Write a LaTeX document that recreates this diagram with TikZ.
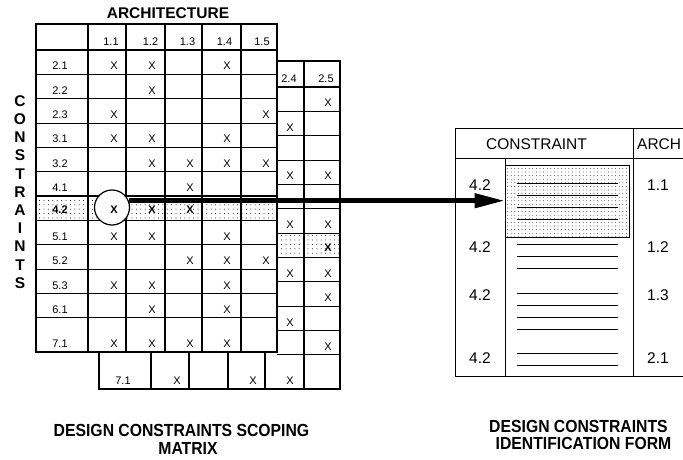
\documentclass[tikz,border=0pt]{standalone}
\usepackage{fontspec}
\setmainfont{Liberation Sans}
\newfontfamily\captionfont[FakeStretch=0.9]{Liberation Sans}
\usetikzlibrary{patterns.meta,arrows.meta}

% a row of X marks: #1 name prefix, #2 baseline, #3 x positions
\newcommand\xrow[3]{\foreach \xx in {#3}{\node[cell] (#1-\xx) at (\xx,#2) {X};}}

\tikzset{
  cell/.style={font=\fontsize{11}{13}\selectfont, anchor=base, inner sep=0pt},
  cellbold/.style={cell, font=\fontsize{11}{13}\selectfont\bfseries},
  gridline/.style={line width=1.05pt},
  frame/.style={line width=2.6pt},
  stipA/.style={pattern={Dots[distance=4.4pt,radius=0.5pt]}, pattern color=black},
  stipB/.style={pattern={Dots[distance=3.6pt,radius=0.42pt]}, pattern color=black},
  rule/.style={line width=1.0pt},
  heading/.style={font=\fontsize{15.5}{18}\selectfont\bfseries, inner sep=0pt},
  formtext/.style={font=\fontsize{15.5}{18}\selectfont, inner sep=0pt, anchor=base},
  caption/.style={font=\captionfont\fontsize{17.5}{20}\selectfont\bfseries, inner sep=0pt},
}

\begin{document}
\begin{tikzpicture}[x=1pt,y=-1pt]
\useasboundingbox (0,0) rectangle (683,460);

% ---------- second sheet of the matrix (behind) ----------
\fill[white] (99,61) rectangle (340,389);
\fill[stipA] (277,233.1) rectangle (340,257.45);
\foreach \y in {87,111.35,135.7,160.05,184.4,208.75,233.1,257.45,281.8,306.15,330.5,354.85}
  \draw[gridline] (277,\y) -- (340,\y);
\draw[gridline] (304,61) -- (304,389);
\foreach \x in {151,189,228,265} \draw[gridline] (\x,352) -- (\x,389);
\draw[frame] (99,61) rectangle (340,389);

\node[cell] (bh4) at (289,82.5) {2.4};
\node[cell] (bh5) at (326,82.5) {2.5};
\xrow{b0}{106.85}{328}
\xrow{b1}{131.2}{290}
\xrow{b3}{179.9}{290,328}
\xrow{b5}{228.6}{290,328}
\node[cellbold] (b6-328) at (328,251.5) {X};
\xrow{b7}{277.3}{290,328}
\xrow{b8}{301.65}{328}
\xrow{b9}{326}{290}
\xrow{b10}{350.35}{328}
\node[cell] (blab) at (123,384.5) {7.1};
\xrow{b11}{384.5}{177,253,290}

% ---------- front sheet of the matrix ----------
\fill[white] (36,24) rectangle (277,352);
\fill[stipA] (36,196.1) rectangle (277,220.45);
\foreach \y in {50,74.35,98.7,123.05,147.4,171.75,244.8,269.15,293.5,317.85}
  \draw[gridline] (36,\y) -- (277,\y);
\foreach \y in {196.1,220.45} \draw[line width=1.6pt] (36,\y) -- (277,\y);
\foreach \x in {88,126,165,202,241} \draw[gridline] (\x,24) -- (\x,352);
\draw[frame] (36,24) rectangle (277,352);

\node[heading] (arch) at (168,13.3) {ARCHITECTURE};
\foreach \l [count=\i from 0] in {C,O,N,S,T,R,A,I,N,T,S}
  \node[heading] (cons\i) at (20,101+\i*18.2) {\l};

\foreach \h/\x in {1.1/111,1.2/150.5,1.3/187.5,1.4/224.5,1.5/262}
  \node[cell] (fh\x) at (\x,45.5) {\h};
\foreach \lab/\yb [count=\k] in {2.1/69.85,2.2/94.2,2.3/118.55,3.1/142.9,3.2/167.25,4.1/191.6,5.1/240.3,5.2/264.65,5.3/289,6.1/313.35,7.1/347.5}
  \node[cell] (flab\k) at (60,\yb) {\lab};

\xrow{f0}{69.85}{114,152,227}
\xrow{f1}{94.2}{152}
\xrow{f2}{118.55}{114,266}
\xrow{f3}{142.9}{114,152,227}
\xrow{f4}{167.25}{152,190,227,266}
\xrow{f5}{191.6}{190}
\xrow{f7}{240.3}{114,152,227}
\xrow{f8}{264.65}{190,227,266}
\xrow{f9}{289}{114,152,227}
\xrow{f10}{313.35}{152,227}
\xrow{f11}{347.5}{114,152,190,227}

% highlighted row 4.2
\node[circle, draw, fill=white, line width=1.2pt, minimum size=35pt, inner sep=0pt] (circ) at (112,207.5) {};
\node[cellbold] (flab42) at (60,213.5) {4.2};
\node[cellbold] (f6-114) at (114,213.5) {X};
\node[cellbold] (f6-152) at (152,213.5) {X};
\node[cellbold] (f6-190) at (190,213.5) {X};

% ---------- identification form ----------
\draw[rule] (683,128) -- (455,128) -- (455,376) -- (683,376);
\draw[rule] (455,158) -- (683,158);
\draw[rule] (633,128) -- (633,376);
\draw[rule] (505,158) -- (505,376);
\node[formtext] (fcons) at (536.5,149) {CONSTRAINT};
\node[formtext, anchor=base west] (farch) at (637,149) {ARCH};

\node[draw, stipB, line width=0.9pt, minimum width=124pt, minimum height=72pt, inner sep=0pt] (hl) at (567,201) {};
\foreach \y in {183,195,207,219,244,256,268,293,305,317,329,353,365}
  \draw[rule] (517,\y) -- (618,\y);

\foreach \a/\yb [count=\k] in {1.1/190.5,1.2/252.2,1.3/300.5,2.1/363.5} {
  \node[formtext] (fc\k) at (480,\yb) {4.2};
  \node[formtext] (fa\k) at (658,\yb) {\a};
}

% ---------- connector ----------
\draw[line width=4.5pt, -{Triangle[length=30pt 0, width=14pt 0]}] (circ.22) -- (circ.22 -| hl.west);

% ---------- captions ----------
\node[caption] (capl1) at (181.5,430) {DESIGN CONSTRAINTS SCOPING};
\node[caption] (capl2) at (188,448.5) {MATRIX};
\node[caption] (capr1) at (578.5,426.5) {DESIGN CONSTRAINTS};
\node[caption] (capr2) at (583.5,443.5) {IDENTIFICATION FORM};
\end{tikzpicture}
\end{document}
